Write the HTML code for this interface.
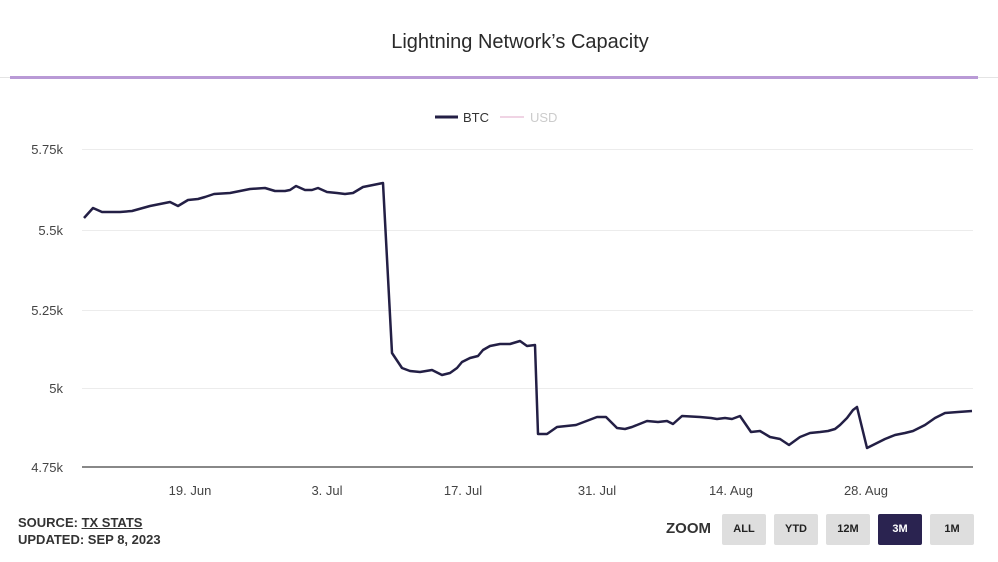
<!DOCTYPE html>
<html><head><meta charset="utf-8"><style>
body{margin:0;width:998px;height:562px;background:#fff;font-family:"Liberation Sans",sans-serif;overflow:hidden;position:relative}
.t{position:absolute;white-space:nowrap}
.btn{position:absolute;top:514px;width:44px;height:31px;background:#dedede;color:#222;font-weight:bold;font-size:11px;line-height:31px;text-align:center;border-radius:2px}
</style></head><body>
<div class="t" style="left:0;width:1040px;text-align:center;top:31px;font-size:20px;color:#2a2a2a">Lightning Network’s Capacity</div>
<div style="position:absolute;left:0;top:77px;width:998px;height:1px;background:#e4e4e4"></div>
<div style="position:absolute;left:10px;top:76px;width:968px;height:3px;background:#b99ad6"></div>
<svg width="998" height="562" style="position:absolute;left:0;top:0">
<g stroke="#ececec" stroke-width="1">
<line x1="82" x2="973" y1="149.5" y2="149.5"/><line x1="82" x2="973" y1="230.5" y2="230.5"/><line x1="82" x2="973" y1="310.5" y2="310.5"/><line x1="82" x2="973" y1="388.5" y2="388.5"/>
</g>
<line x1="82" x2="973" y1="467" y2="467" stroke="#888" stroke-width="2"/>
<g font-size="13" fill="#444" text-anchor="end">
<text x="63" y="154">5.75k</text><text x="63" y="235">5.5k</text><text x="63" y="315">5.25k</text><text x="63" y="393">5k</text><text x="63" y="472">4.75k</text>
</g>
<g font-size="13" fill="#444" text-anchor="middle">
<text x="190" y="495">19. Jun</text><text x="327" y="495">3. Jul</text><text x="463" y="495">17. Jul</text><text x="597" y="495">31. Jul</text><text x="731" y="495">14. Aug</text><text x="866" y="495">28. Aug</text>
</g>
<line x1="435" x2="458" y1="117" y2="117" stroke="#231f45" stroke-width="3"/>
<text x="463" y="122" font-size="13" fill="#333">BTC</text>
<line x1="500" x2="524" y1="117" y2="117" stroke="#f0d4e4" stroke-width="2"/>
<text x="530" y="122" font-size="13" fill="#ccc">USD</text>
<polyline fill="none" stroke="#231f45" stroke-width="2.5" stroke-linejoin="round" points="84,218 93,208 102,212 120,212 132,211 150,206 160,204 170,202 178,206 188,200 198,199 205,197 214,194 230,193 240,191 250,189 265,188 275,191 285,191 290,190 296,186 305,190 312,190 318,188 327,192 337,193 345,194 353,193 363,187 373,185 383,183 392,353 402,368 410,371 420,372 432,370 442,375 450,373 457,368 462,362 470,358 478,356 483,350 490,346 500,344 510,344 520,341 527,346 535,345 538,434 547,434 557,427 576,425 597,417 606,417 617,428 625,429 632,427 647,421 658,422 667,421 673,424 682,416 700,417 711,418 717,419 725,418 732,419 740,416 751,432 760,431 770,437 780,439 789,445 800,437 810,433 820,432 828,431 835,429 840,425 847,418 853,410 857,407 867,448 875,444 885,439 895,435 905,433 913,431 925,425 935,418 945,413 958,412 972,411"/>
</svg>
<div class="t" style="left:18px;top:514px;font-size:13px;font-weight:bold;color:#333;line-height:17px">SOURCE: <span style="text-decoration:underline">TX STATS</span><br>UPDATED: SEP 8, 2023</div>
<div class="t" style="left:666px;top:520px;font-size:15px;font-weight:bold;color:#333">ZOOM</div>
<div class="btn" style="left:722px">ALL</div>
<div class="btn" style="left:774px">YTD</div>
<div class="btn" style="left:826px">12M</div>
<div class="btn" style="left:878px;background:#2a2350;color:#fff">3M</div>
<div class="btn" style="left:930px">1M</div>
</body></html>
